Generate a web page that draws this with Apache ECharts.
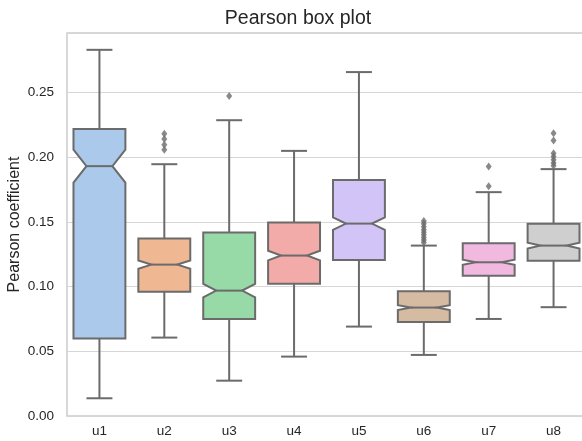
<!DOCTYPE html>
<html>
<head>
<meta charset="utf-8">
<script src="https://cdn.jsdelivr.net/npm/echarts@6/dist/echarts.min.js"></script>
<style>
  html, body { margin: 0; padding: 0; background: #ffffff; }
  #chart { width: 582px; height: 441px; }
</style>
</head>
<body>
<div id="chart"></div>
<script>
// Box statistics per group
const categories  = ['u1', 'u2', 'u3', 'u4', 'u5', 'u6', 'u7', 'u8'];
const whiskerLow  = [0.0137, 0.0606, 0.0273, 0.0459, 0.0691, 0.0472, 0.0750, 0.0841];
const q1          = [0.0598, 0.0961, 0.0750, 0.1023, 0.1206, 0.0727, 0.1083, 0.1199];
const median      = [0.1931, 0.1170, 0.0969, 0.1240, 0.1487, 0.0838, 0.1188, 0.1317];
const q3          = [0.2219, 0.1371, 0.1418, 0.1495, 0.1823, 0.0964, 0.1335, 0.1485];
const whiskerHigh = [0.2830, 0.1946, 0.2286, 0.2049, 0.2658, 0.1317, 0.1730, 0.1908];
const sampleSize  = 400;

// Points beyond the whiskers
const outliersU2 = [0.2181, 0.2140, 0.2096, 0.2057];
const outliersU3 = [0.2474];
const outliersU6 = [0.1508, 0.1485, 0.1462, 0.1440, 0.1420, 0.1400, 0.1380, 0.1360, 0.1340];
const outliersU7 = [0.1928, 0.1775];
const outliersU8 = [0.2186, 0.2129, 0.2031, 0.2005, 0.1980, 0.1955, 0.1935];

const yTicks = [0.00, 0.05, 0.10, 0.15, 0.20, 0.25];

const boxColors = ['#abc9ea', '#efb792', '#98daa7', '#f2aba8', '#d3c4f7', '#d6bba3', '#f1b9e0', '#cfcfcf'];
const lineColor = '#6b6b6b';
const textColor = '#262626';
const fontFamily = '"Liberation Sans", Arial, sans-serif';

// Notch extent: median ± 1.57·IQR/√n
const notchLow  = median.map((m, i) => m - 1.57 * (q3[i] - q1[i]) / Math.sqrt(sampleSize));
const notchHigh = median.map((m, i) => m + 1.57 * (q3[i] - q1[i]) / Math.sqrt(sampleSize));

const boxData = categories.map((c, i) => [i, whiskerLow[i], q1[i], median[i], q3[i], whiskerHigh[i], notchLow[i], notchHigh[i]]);

const outlierGroups = { u2: outliersU2, u3: outliersU3, u6: outliersU6, u7: outliersU7, u8: outliersU8 };
const outlierData = [];
Object.keys(outlierGroups).forEach(k => {
  const idx = categories.indexOf(k);
  outlierGroups[k].forEach(v => outlierData.push([idx, v]));
});

function renderBox(params, api) {
  const idx = api.value(0);
  const band = api.size([1, 0])[0];
  const hw = band * 0.8 / 2;
  const cx = api.coord([idx, 0])[0];
  const y = v => api.coord([idx, v])[1];
  const wLo = y(api.value(1)), b1 = y(api.value(2)), med = y(api.value(3));
  const b3 = y(api.value(4)), wHi = y(api.value(5));
  const nLo = y(api.value(6)), nHi = y(api.value(7));
  const capHw = hw / 2;
  const style = { stroke: lineColor, lineWidth: 2, fill: null };
  return {
    type: 'group',
    children: [
      { type: 'line', shape: { x1: cx, y1: b3, x2: cx, y2: wHi }, style: style },
      { type: 'line', shape: { x1: cx, y1: b1, x2: cx, y2: wLo }, style: style },
      { type: 'line', shape: { x1: cx - capHw, y1: wHi, x2: cx + capHw, y2: wHi }, style: style },
      { type: 'line', shape: { x1: cx - capHw, y1: wLo, x2: cx + capHw, y2: wLo }, style: style },
      {
        type: 'polygon',
        shape: {
          points: [
            [cx - hw, b1], [cx - hw, nLo], [cx - hw / 2, med], [cx - hw, nHi], [cx - hw, b3],
            [cx + hw, b3], [cx + hw, nHi], [cx + hw / 2, med], [cx + hw, nLo], [cx + hw, b1]
          ]
        },
        style: { fill: boxColors[idx], stroke: lineColor, lineWidth: 2, lineJoin: 'miter' }
      },
      { type: 'line', shape: { x1: cx - hw / 2, y1: med, x2: cx + hw / 2, y2: med }, style: style }
    ]
  };
}

const chart = echarts.init(document.getElementById('chart'), null, { renderer: 'canvas' });
chart.setOption({
  backgroundColor: '#ffffff',
  animation: false,
  title: {
    text: 'Pearson box plot',
    left: 293, top: 4, textAlign: 'center',
    textStyle: { fontFamily: fontFamily, fontSize: 19.5, fontWeight: 'normal', color: textColor }
  },
  grid: {
    left: 67, top: 33, width: 519, height: 383,
    containLabel: false,
    outerBoundsMode: 'none',
    show: true, borderColor: '#cccccc', borderWidth: 1.5, backgroundColor: 'transparent'
  },
  xAxis: {
    type: 'category',
    data: categories,
    boundaryGap: true,
    axisLine: { show: false },
    axisTick: { show: false },
    splitLine: { show: false },
    axisLabel: { margin: 8, fontFamily: fontFamily, fontSize: 13.5, color: textColor }
  },
  yAxis: {
    type: 'value',
    min: 0, max: 0.296, interval: 0.05,
    name: 'Pearson coefficient',
    nameLocation: 'middle',
    nameGap: 44,
    nameMoveOverlap: false,
    nameTextStyle: { fontFamily: fontFamily, fontSize: 16, color: textColor },
    axisLine: { show: false },
    axisTick: { show: false },
    splitLine: { show: true, lineStyle: { color: '#d6d6d6', width: 1 } },
    axisLabel: {
      margin: 13, fontFamily: fontFamily, fontSize: 13.5, color: textColor,
      formatter: v => (yTicks.some(t => Math.abs(t - v) < 1e-9) ? v.toFixed(2) : '')
    }
  },
  series: [
    {
      type: 'custom',
      renderItem: renderBox,
      data: boxData,
      encode: { x: 0, y: [1, 5] },
      z: 2
    },
    {
      type: 'scatter',
      data: outlierData,
      symbol: 'diamond',
      symbolSize: [6, 8],
      itemStyle: { color: lineColor },
      z: 3
    }
  ]
});
</script>
</body>
</html>
